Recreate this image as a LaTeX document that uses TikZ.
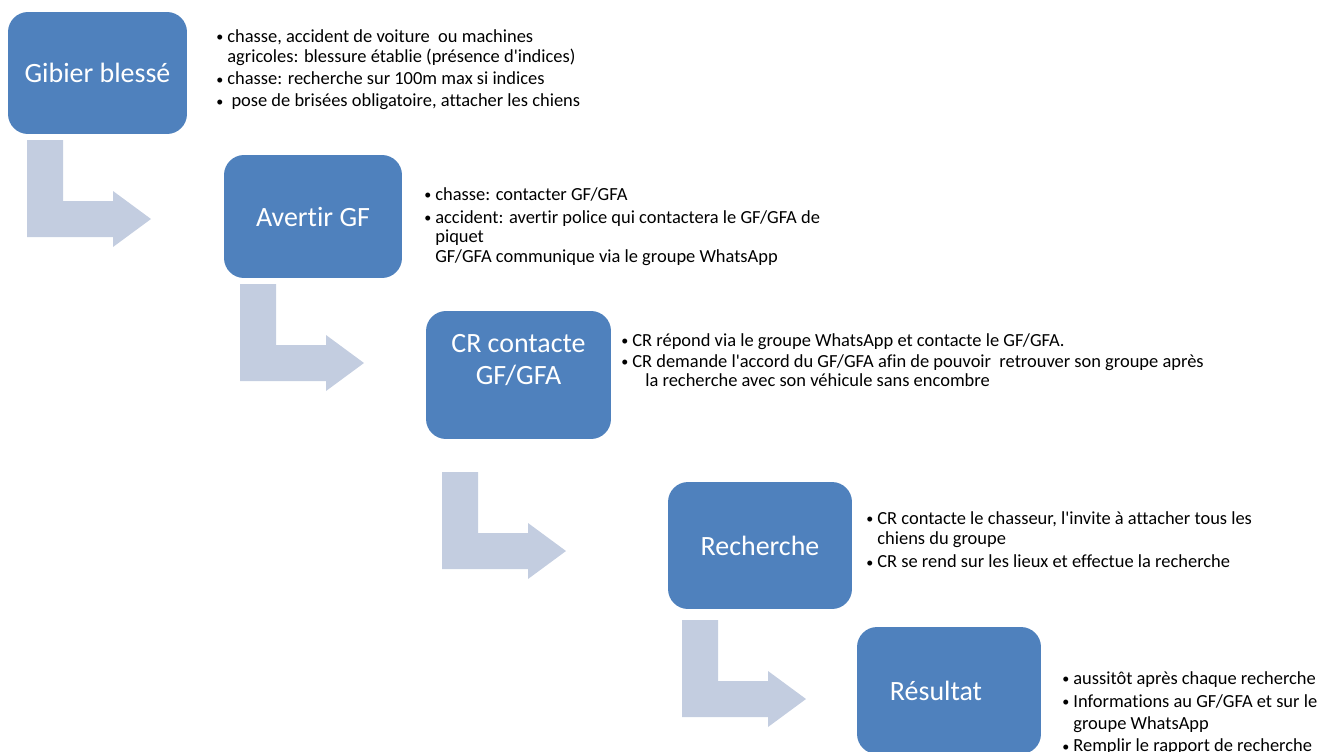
\documentclass[tikz,border=0pt]{standalone}
\usepackage{fontspec}
\setmainfont{Carlito}[Ligatures=NoCommon]
\definecolor{bleu}{HTML}{4F81BD}
\definecolor{bleuclair}{HTML}{C3CDE0}
\newcommand{\puce}{\makebox[0.22cm][l]{\raisebox{0.4pt}{\fontsize{8}{8}\selectfont\textbullet}}}
\newcommand{\apos}{\textquotesingle{}}
\tikzset{etape/.style={fill=bleu, rounded corners=0.4cm, text=white, align=center, inner sep=0pt, font=\fontsize{15.9}{18.1}\selectfont},
 fleche/.style={fill=bleuclair},
 puces/.style={anchor=north west, align=left, inner sep=0pt, font=\fontsize{10.5}{11.3}\selectfont}}

\begin{document}
\begin{tikzpicture}[x=0.02cm,y=-0.02cm]
 \useasboundingbox (0,0) rectangle (1318,751);
 \clip (0,0) rectangle (1318,751);
 % fleches
 \fill[fleche](27,140)--++(36,0)--++(0,61)--++(50,0)--++(0,-10)--++(38,28)--++(-38,28)--++(0,-10)--++(-86,0)--cycle;
 \fill[fleche](240,284)--++(36,0)--++(0,61)--++(50,0)--++(0,-10)--++(38,28)--++(-38,28)--++(0,-10)--++(-86,0)--cycle;
 \fill[fleche](442,472)--++(36,0)--++(0,61)--++(50,0)--++(0,-10)--++(38,28)--++(-38,28)--++(0,-10)--++(-86,0)--cycle;
 \fill[fleche](682,620)--++(36,0)--++(0,61)--++(50,0)--++(0,-10)--++(38,28)--++(-38,28)--++(0,-10)--++(-86,0)--cycle;
 % etapes
 \node[etape,minimum width=3.58cm,minimum height=2.44cm] (gibier) at (97.5,73) {Gibier blessé};
 \node[etape,minimum width=3.56cm,minimum height=2.46cm] (avertir) at (313,216.5) {Avertir GF};
 \node[etape,minimum width=3.7cm,minimum height=2.56cm] (contact) at (518.5,375) {CR contacte\\GF/GFA\\~};
 \node[etape,minimum width=3.68cm,minimum height=2.54cm] (recherche) at (760,545.5) {Recherche};
 \node[etape,minimum width=3.68cm,minimum height=2.54cm] (resultat) at (949,690.5) {Résultat\hspace*{0.52cm}};
 % textes
 \node[puces] (txtgibier) at (216,29) {\puce chasse, accident de voiture\ \ ou machines\\
  \hspace*{0.22cm}agricoles: blessure établie (présence d\apos indices)\\[0.06cm]
  \puce chasse: recherche sur 100m max si indices\\[0.04cm]
  \puce\ pose de brisées obligatoire, attacher les chiens};
 \node[puces] (txtavertir) at (424,187) {\puce chasse: contacter GF/GFA\\[0.06cm]
  \puce accident: avertir police qui contactera le GF/GFA de\\
  \hspace*{0.22cm}piquet\\
  \hspace*{0.22cm}GF/GFA communique via le groupe WhatsApp};
 \node[puces] (txtcontact) at (621,333) {\puce CR répond via le groupe WhatsApp et contacte le GF/GFA.\\[0.02cm]
  \puce CR demande l\apos accord du GF/GFA afin de pouvoir\ \ retrouver son groupe après\\
  \hspace*{0.48cm}la recherche avec son véhicule sans encombre};
 \node[puces] (txtrecherche) at (866,511) {\puce CR contacte le chasseur, l\apos invite à attacher tous les\\
  \hspace*{0.22cm}chiens du groupe\\[0.08cm]
  \puce CR se rend sur les lieux et effectue la recherche};
 \node[puces] (txtresultat) at (1062,671) {\puce aussitôt après chaque recherche\\[0.06cm]
  \puce Informations au GF/GFA et sur le\\[0.06cm]
  \hspace*{0.22cm}groupe WhatsApp\\[0.04cm]
  \puce Remplir le rapport de recherche};
\end{tikzpicture}
\end{document}
